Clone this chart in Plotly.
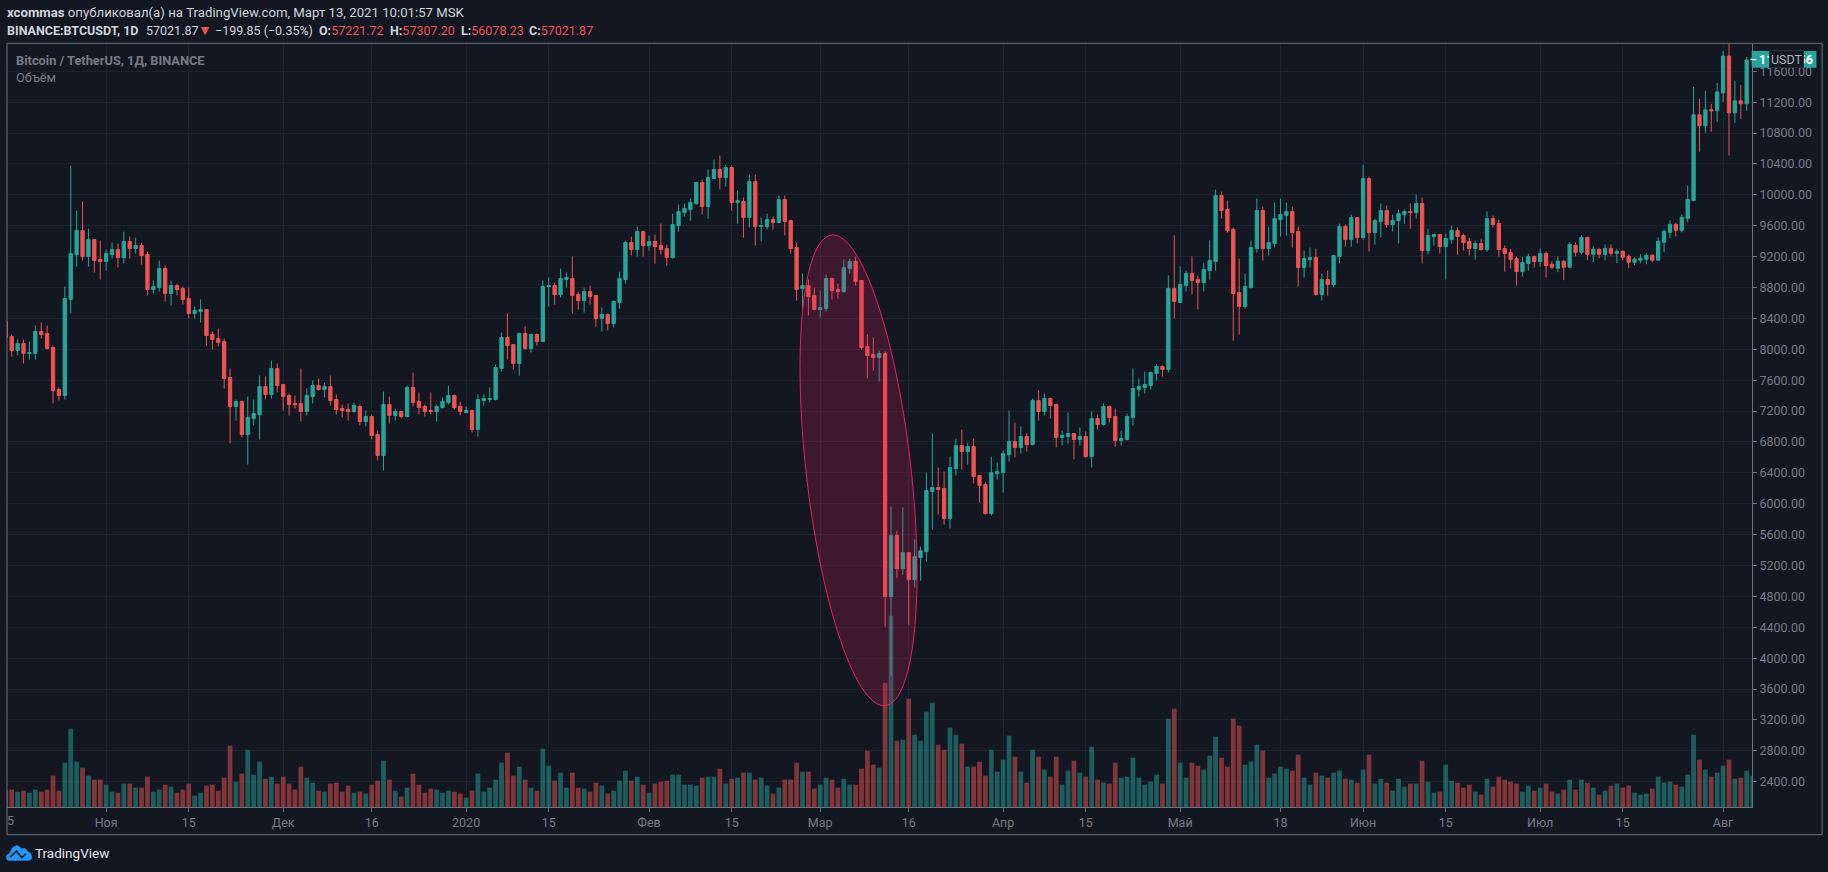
import numpy as np
import pandas as pd
import plotly.graph_objects as go

START = "2019-10-15"
OPEN = [8359,8165,7984,8074,7945,7945,8230,8204,8022,7479,
7401,8644,9226,9537,9200,9420,9162,9136,9226,9291,
9187,9395,9304,9343,9226,8773,8799,9045,8721,8825,
8786,8657,8463,8488,8514,8191,8139,8100,7634,7259,
7323,6896,7103,7155,7517,7414,7751,7543,7401,7297,
7297,7194,7388,7530,7479,7517,7349,7233,7220,7194,
7259,7064,7129,6896,6624,7284,7142,7194,7129,7505,
7323,7259,7207,7194,7245,7310,7401,7259,7181,7207,
6961,7336,7349,7349,7751,8152,8061,7815,8204,8009,
8191,8100,8812,8825,8708,8903,8916,8708,8631,8747,
8696,8398,8450,8333,8605,8903,9382,9291,9524,9343,
9395,9343,9304,9187,9602,9770,9809,9886,10158,9848,
10210,10327,10223,10353,9899,9912,9705,10171,9589,9589,
9679,9640,9938,9666,9317,8786,8825,8696,8514,8527,
8916,8773,8747,9045,9136,8890,8035,7932,7893,7945,
4796,5587,5159,5366,5016,5302,5379,6157,6209,6196,
5807,6455,6753,6675,6740,6364,6248,5872,6390,6403,
6636,6805,6727,6870,6766,7336,7194,7362,7284,6857,
6870,6909,6831,6870,6610,7103,7025,7259,7129,6818,
6831,7116,7479,7505,7531,7686,7777,7738,8788,8606,
8827,8982,8904,8864,9019,9136,9990,9809,9550,8734,
8553,8799,9304,9796,9304,9369,9679,9731,9783,9524,
9058,9162,9187,8708,8903,8838,9200,9589,9420,9705,
9446,10210,9511,9653,9796,9615,9666,9744,9783,9770,
9887,9278,9459,9485,9330,9420,9537,9472,9395,9304,
9369,9291,9692,9628,9304,9252,9174,9006,9110,9200,
9136,9239,9101,9050,9140,9062,9346,9256,9449,9230,
9295,9230,9307,9243,9269,9204,9127,9153,9166,9217,
9153,9385,9514,9617,9540,9695,9927,11036,10894,11101,
11088,11320,11797,11062,11217,11178,11746]
HIGH = [8370,8190,8126,8126,8100,8307,8346,8307,8048,7505,
8812,10378,9796,9912,9563,9420,9407,9291,9382,9369,
9524,9459,9446,9382,9265,8890,9149,9084,8890,8851,
8812,8799,8553,8644,8514,8230,8268,8139,7751,7349,
7336,7388,7349,7660,7647,7854,7815,7543,7427,7401,
7751,7492,7595,7621,7569,7660,7414,7284,7297,7310,
7284,7207,7155,6948,7453,7388,7233,7194,7530,7699,
7440,7284,7440,7284,7375,7530,7414,7323,7259,7220,
7414,7414,7505,7802,8217,8463,8061,8204,8294,8204,
8204,8890,8929,8864,9045,8993,9200,8747,8799,8825,
8696,8540,8463,8631,9006,9408,9459,9589,9537,9472,
9485,9628,9356,9757,9874,9887,9951,10171,10197,10327,
10456,10508,10391,10378,10055,9964,10262,10262,9705,9757,
9718,9990,9990,9679,9382,8980,8903,8799,8760,8967,
8929,8851,9162,9174,9200,8890,8191,8152,7984,7971,
5963,5652,5950,5366,5535,5444,6403,6909,6468,6416,
6610,6844,6960,6792,6844,6364,6274,6610,6533,6688,
7207,7051,7000,6909,7362,7466,7427,7375,7297,6948,
7181,6909,6986,6935,7194,7155,7297,7271,7233,6948,
7168,7751,7621,7712,7712,7803,7790,8956,9475,9073,
9021,9203,8956,9123,9408,10068,10042,9925,9576,9175,
8980,9408,9951,9848,9589,9899,9951,9899,9848,9589,
9278,9317,9304,8980,9019,9226,9628,9615,9744,9705,
10391,10236,9692,9887,9861,9744,9809,9809,9887,10003,
9964,9563,9498,9485,9498,9602,9576,9498,9446,9408,
9433,9783,9731,9679,9343,9304,9200,9200,9239,9213,
9304,9265,9140,9204,9153,9385,9385,9475,9449,9333,
9307,9359,9359,9295,9282,9230,9191,9230,9243,9230,
9449,9553,9669,9643,9746,10120,11397,11243,11346,11178,
11449,11862,12110,11475,11423,11785,11900]
LOW = [8130,7906,7919,7815,7867,7867,8139,7997,7297,7336,
7349,8463,9071,9149,9071,8993,8903,9019,9174,9058,
9110,9174,9239,9097,8696,8721,8747,8618,8566,8696,
8579,8398,8398,8346,8048,7997,8035,7492,6780,7077,
6857,6508,7013,6831,7349,7362,7440,7207,7142,7233,
7064,7142,7297,7466,7375,7271,7155,7116,7077,7181,
7013,7000,6831,6560,6430,7038,7077,7103,7116,7259,
7155,7129,7155,7064,7233,7284,7220,7142,7168,6922,
6870,7271,7310,7336,7712,7867,7737,7660,7997,7958,
8048,8100,8553,8579,8670,8799,8463,8514,8475,8579,
8294,8230,8242,8281,8527,8851,9213,9200,9200,9278,
9110,9226,9084,9174,9524,9718,9666,9874,9744,9692,
10210,10068,10107,9796,9628,9446,9576,9343,9395,9550,
9550,9640,9472,9239,8631,8527,8437,8514,8411,8488,
8644,8657,8734,8980,8825,7997,7621,7725,7582,4407,
3772,5042,5081,4433,4913,5003,5250,5664,5859,5729,
5678,6364,6442,6507,6261,6014,5859,5846,6312,6144,
6546,6598,6649,6675,6753,7077,7142,7103,6727,6753,
6779,6572,6753,6598,6468,6960,7012,7051,6740,6753,
6818,7012,7388,7427,7479,7596,7647,7699,8399,8606,
8749,8710,8516,8747,8903,9019,9692,9511,8113,8191,
8527,8786,9252,9149,9213,9317,9459,9472,9317,8812,
8929,9058,8696,8631,8696,8799,9110,9330,9330,9369,
9420,9265,9356,9446,9576,9524,9369,9628,9563,9692,
9110,9226,9343,9239,8903,9369,9226,9278,9213,9161,
9278,9265,9576,9200,9006,9045,8825,8942,9019,9058,
9071,8929,9037,8998,8895,9050,9204,9230,9153,9127,
9178,9153,9204,9114,9153,9050,9088,9114,9101,9127,
9153,9256,9437,9462,9514,9643,9914,10559,10804,10817,
10946,11204,10507,10933,10984,11088,11590]
CLOSE = [8152,7984,8074,7945,7958,8230,8191,8010,7466,7401,
8657,9239,9537,9200,9420,9149,9136,9239,9291,9187,
9395,9304,9343,9213,8773,8812,9045,8721,8825,8773,
8644,8463,8501,8514,8178,8126,8087,7621,7259,7323,
6896,7116,7168,7517,7414,7751,7530,7388,7284,7284,
7194,7401,7530,7479,7517,7336,7220,7207,7194,7272,
7064,7129,6883,6624,7284,7142,7194,7129,7505,7310,
7245,7194,7194,7259,7323,7401,7245,7194,7207,6961,
7349,7362,7362,7763,8152,8048,7815,8204,8009,8191,
8100,8812,8825,8708,8916,8929,8696,8631,8747,8682,
8398,8450,8333,8618,8916,9382,9291,9524,9343,9395,
9330,9291,9187,9615,9783,9822,9899,10158,9848,10223,
10327,10223,10353,9899,9925,9705,10171,9589,9602,9679,
9640,9938,9653,9304,8773,8825,8682,8514,8540,8916,
8760,8747,9058,9136,8877,8022,7919,7893,7945,4796,
5587,5159,5366,5016,5315,5392,6170,6209,6183,5807,
6468,6753,6675,6740,6351,6235,5872,6403,6416,6649,
6805,6727,6870,6766,7336,7194,7362,7271,6857,6883,
6909,6831,6870,6610,7103,7025,7259,7116,6818,6844,
7129,7492,7518,7544,7699,7777,7738,8788,8619,8840,
8982,8891,8866,9032,9149,9990,9796,9537,8721,8553,
8812,9317,9796,9304,9382,9692,9744,9783,9511,9058,
9175,9187,8708,8903,8838,9213,9589,9420,9705,9446,
10210,9511,9666,9796,9615,9666,9757,9783,9770,9887,
9278,9472,9485,9330,9433,9537,9459,9382,9304,9369,
9291,9692,9615,9291,9239,9161,9006,9123,9200,9136,
9239,9084,9062,9140,9062,9359,9256,9449,9230,9295,
9230,9307,9243,9269,9191,9127,9166,9178,9217,9153,
9398,9527,9617,9540,9707,9940,11036,10894,11101,11088,
11333,11797,11062,11217,11178,11746,11770]
VOLUME = [24.5,26,23,24.5,21.5,26,23,26,47,24.5,
66.5,117.5,68,59,47,41,41,33.5,23,21.5,
35,35,29,29,45.5,23,26,33.5,30.5,21.5,
26,35,17,21.5,32,33.5,24.5,44,92,38,
50,86,48.5,68,42.5,45.5,35,45.5,35,26,
60.5,44,36.5,24.5,23,35,36.5,23,32,21.5,
23,20,33.5,39.5,69.5,41,24.5,15.5,29,50,
33.5,21.5,27.5,26,21.5,24.5,23,20,14,24.5,
50,23,29,41,66.5,81.5,47,60.5,41,29,
24.5,87.5,62,39.5,51.5,29,51.5,29,27.5,23,
36.5,32,20,24.5,39.5,54.5,39.5,45.5,33.5,21.5,
35,38,39.5,48.5,48.5,33.5,33.5,32,44,45.5,
45.5,57.5,35,42.5,44,51.5,51.5,41,44,32,
20,29,41,41,66.5,53,53,27.5,33.5,44,
41,29,42.5,33.5,33.5,57.5,84.5,63.5,59,186.5,
287,99.5,101,162.5,108.5,99.5,143,156.5,93.5,86,
119,108.5,95,60.5,60.5,68,47,86,53,71,
107,75.5,53,36.5,86,75.5,56,45.5,75.5,33.5,
54.5,69.5,51.5,45.5,90.5,41,36.5,35,66.5,44,
45.5,74,44,33.5,38,48.5,35,132.5,147.5,66.5,
44,66.5,62,56,77,105.5,74,60.5,132.5,122,
63.5,68,93.5,84.5,44,50,60.5,57.5,54.5,78.5,
44,33.5,51.5,47,44,51.5,54.5,42.5,41,36.5,
56,78.5,35,42.5,36.5,24.5,42.5,30.5,35,35,
69.5,38,21.5,23,63.5,39.5,36.5,29,33.5,23,
18.5,42.5,30.5,45.5,41,38,35,23,32,24.5,
29,35,23,20,26,41,26,41,36.5,29,
18.5,24.5,32,35,29,32,21.5,18.5,20,27.5,
45.5,36.5,38,33.5,30.5,48.5,108.5,71,56,45.5,
51.5,62,71,42.5,44,54.5,47]

DATE_TICKS = ["2019-10-15","2019-11-01","2019-11-15","2019-12-01","2019-12-16","2020-01-01","2020-01-15",
              "2020-02-01","2020-02-15","2020-03-01","2020-03-16","2020-04-01","2020-04-15","2020-05-01",
              "2020-05-18","2020-06-01","2020-06-15","2020-07-01","2020-07-15","2020-08-01"]
DATE_LABELS = ["","Ноя","15","Дек","16","2020","15","Фев","15","Мар","16","Апр","15","Май","18","Июн","15","Июл","15","Авг"]
PRICE_TICKS = list(range(2400, 11601, 400))
PRICE_LABELS = [f"{p}.00" for p in PRICE_TICKS]

BG = "#131722"; GRID = "#1e222d"; AXIS = "#6f727d"; TXT = "#787b86"; UP = "#26a69a"; DOWN = "#ef5350"
FONT = "Roboto"

# plot rectangle in page pixels
L, R, T, B = 7.0, 1751.6, 44.0, 807.3
W, H = 1828, 872
def xp(px): return (px - L) / (R - L)
def yp(py): return (B - py) / (B - T)

dates = pd.date_range(START, periods=len(OPEN), freq="D")
vol_colors = ["rgba(38,166,154,0.5)" if c >= o else "rgba(239,83,80,0.5)" for o, c in zip(OPEN, CLOSE)]

fig = go.Figure()
fig.add_trace(go.Bar(x=dates, y=VOLUME, marker=dict(color=vol_colors, line_width=0), yaxis="y", hoverinfo="skip"))
fig.add_trace(go.Candlestick(x=dates, open=OPEN, high=HIGH, low=LOW, close=CLOSE, yaxis="y2",
    increasing=dict(line=dict(color=UP, width=1), fillcolor=UP),
    decreasing=dict(line=dict(color=DOWN, width=1), fillcolor=DOWN), whiskerwidth=0))

# the hand-drawn rotated ellipse annotation on the chart, in date/price space
E_CENTER = pd.Timestamp("2020-03-07 12:00"); E_PRICE = 6432
ell_pts = []
for a in np.linspace(0, 2*np.pi, 121)[:-1]:
    d = E_CENTER + pd.Timedelta(days=float(9.915*np.cos(a)))
    price = E_PRICE - (1328*np.cos(a) + 2744*np.sin(a))
    ell_pts.append(f"{d.strftime('%Y-%m-%d_%H:%M:%S')},{price:.1f}")
ell_path = "M" + " L".join(ell_pts) + " Z"

def frame(x0, y0, x1, y1, **kw):
    base = dict(type="rect", xref="paper", yref="paper", x0=xp(x0), x1=xp(x1), y0=yp(y0), y1=yp(y1),
                line=dict(color=AXIS, width=1), fillcolor="rgba(0,0,0,0)", layer="above")
    base.update(kw)
    return base

def path(segs):
    out = []
    for cmd, pts in segs:
        out.append(cmd + " ".join(f"{xp(a):.5f},{yp(b):.5f}" for a, b in pts))
    return " ".join(out)

cloud = path([("M", [(9, 861)]), ("C", [(6, 861), (5.5, 857), (7, 855)]), ("C", [(8, 854), (9, 854), (10, 853)]),
              ("C", [(11, 848), (15, 845.5), (18, 846)]), ("C", [(20, 846.5), (21, 848), (21.5, 849.5)]),
              ("C", [(23, 847.5), (26, 848), (27, 851)]), ("C", [(30, 852), (32, 855), (32, 857.5)]),
              ("C", [(32, 860), (30, 861), (28, 861)]), ("Z", [])])
zig = path([("M", [(10, 857.5)]), ("L", [(16.5, 851.5)]), ("L", [(21.7, 858)]), ("L", [(26, 854)])])

shapes = [
    dict(type="path", xref="x", yref="y2", path=ell_path, line=dict(color="#e91e63", width=1),
         fillcolor="rgba(233,30,99,0.2)", layer="above"),
    frame(L, 43.3, 1821.7, 835),
    dict(type="path", xref="paper", yref="paper", path=cloud, fillcolor="#2196f3", line=dict(width=0), layer="above"),
    dict(type="path", xref="paper", yref="paper", path=zig, line=dict(color=BG, width=1.5), layer="above"),
    frame(1751.3, 51, 1816, 67.7, fillcolor=UP, line=dict(width=0)),
    dict(type="line", xref="paper", yref="paper", x0=xp(1750), x1=xp(1756), y0=yp(59.7), y1=yp(59.7),
         line=dict(color="#ffffff", width=1), layer="above"),
]

def note(px, py, text, color="#d1d4dc", size=13.2, **kw):
    return dict(xref="paper", yref="paper", x=xp(px), y=yp(py), text=text, showarrow=False, xanchor=kw.pop("xanchor", "left"),
                yanchor="middle", font=dict(family=FONT, size=size, color=color), align="left", **kw)

LINE2 = 12.5
annots = [
    note(5, 12.7, "<b>xcommas</b> опубликовал(а) на TradingView.com, Март 13, 2021 10:01:57 MSK", "#d1d4dc"),
    note(5, 30, "<b>BINANCE:BTCUSDT, 1D</b>", "#d1d4dc", size=LINE2),
    note(143.5, 30, "57021.87", "#d1d4dc", size=LINE2),
    note(205, 29.5, "▼", DOWN, size=14, xanchor="center"),
    note(213, 30, "−199.85 (−0.35%)", "#d1d4dc", size=LINE2),
    note(317, 30, f"<b>O:</b><span style='color:{DOWN}'>57221.72</span>", "#d1d4dc", size=LINE2),
    note(387.7, 30, f"<b>H:</b><span style='color:{DOWN}'>57307.20</span>", "#d1d4dc", size=LINE2),
    note(458.5, 30, f"<b>L:</b><span style='color:{DOWN}'>56078.23</span>", "#d1d4dc", size=LINE2),
    note(526.9, 30, f"<b>C:</b><span style='color:{DOWN}'>57021.87</span>", "#d1d4dc", size=LINE2),
    note(14, 61, "<b>Bitcoin / TetherUS, 1Д, BINANCE</b>", TXT, size=12.8),
    note(14, 78, "Объём", TXT, size=12.8),
    note(5, 820.7, "5", TXT, size=12.5),
    note(32.5, 853, "TradingView", "#e6e8ee", size=13.5),
    note(1785.7, 59.4, "<b>11746.56</b>", "#ffffff", size=12.5, xanchor="center"),
    note(1786, 59.2, "USDT", "#b2b5be", size=12.5, xanchor="center", bgcolor=BG, bordercolor="#2a2e39", borderwidth=1, borderpad=1, width=31, height=14),
]

fig.update_layout(
    width=W, height=H, autosize=False,
    margin=dict(l=L, r=W - R, t=T, b=H - B, pad=0),
    paper_bgcolor=BG, plot_bgcolor=BG, showlegend=False, hovermode=False,
    bargap=0.2, boxgap=0.2,
    font=dict(family=FONT, color=TXT, size=12.5),
    xaxis=dict(type="date", range=["2019-10-15 04:48", "2020-08-05 21:36"], rangeslider=dict(visible=False),
               tickmode="array", tickvals=DATE_TICKS, ticktext=DATE_LABELS, tickangle=0,
               showgrid=True, gridcolor=GRID, gridwidth=1, zeroline=False,
               showline=True, linecolor=AXIS, linewidth=1, ticks="outside", ticklen=4, tickcolor=AXIS,
               tickfont=dict(family=FONT, size=12.5, color=TXT)),
    yaxis=dict(range=[0, 1144.95], showgrid=False, zeroline=False, showticklabels=False, ticks="", fixedrange=True),
    yaxis2=dict(overlaying="y", side="right", range=[2072.5, 11953], tickmode="array", tickvals=PRICE_TICKS, ticktext=PRICE_LABELS,
                showgrid=True, gridcolor=GRID, gridwidth=1, zeroline=False, showline=True, linecolor=AXIS, linewidth=1,
                ticks="outside", ticklen=4, tickcolor=AXIS, tickfont=dict(family=FONT, size=12.5, color=TXT)),
    shapes=shapes, annotations=annots,
)
fig.write_html("out.html", config=dict(displayModeBar=False),
               post_script="document.body.style.margin='0';document.body.style.background='#131722';document.body.style.overflow='hidden';")
